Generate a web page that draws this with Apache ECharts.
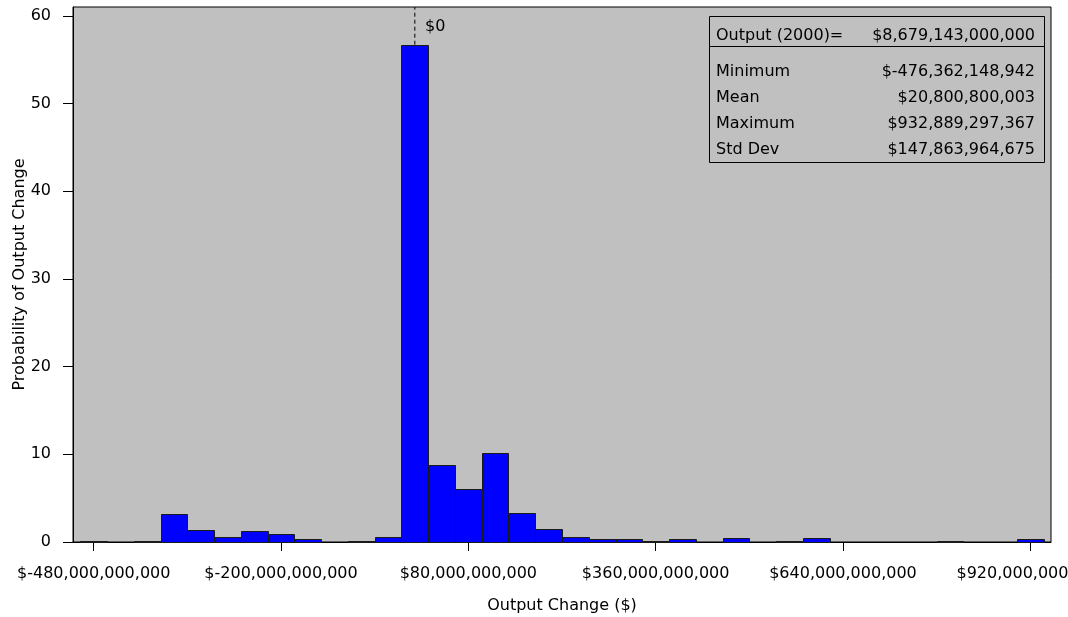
<!DOCTYPE html>
<html>
<head>
<meta charset="utf-8">
<script src="https://cdn.jsdelivr.net/npm/echarts@6/dist/echarts.min.js"></script>
<style>
  html, body { margin: 0; padding: 0; background: #ffffff; }
  #chart { width: 1068px; height: 617px; }
</style>
</head>
<body>
<div id="chart"></div>
<script>
// Histogram bins: centre of each bin, in billions of dollars (bins are 40 wide)
const binCenters = [
  -480, -440, -400, -360, -320, -280, -240, -200, -160, -120, -80, -40,
  0, 40, 80, 120, 160, 200, 240, 280, 320, 360, 400, 440,
  480, 520, 560, 600, 640, 680, 720, 760, 800, 840, 880, 920
];
// Probability (%) of the output change falling in each bin
const probability = [
  0.15, 0, 0.15, 3.2, 1.35, 0.55, 1.2, 0.95, 0.3, 0, 0.15, 0.6,
  56.7, 8.8, 6.05, 10.1, 3.3, 1.5, 0.6, 0.3, 0.3, 0.15, 0.3, 0,
  0.45, 0, 0.15, 0.45, 0, 0, 0, 0, 0.15, 0, 0, 0.3
];
const binWidth = 40;
const xTicks = [-480, -200, 80, 360, 640, 920];
const yTicks = [0, 10, 20, 30, 40, 50, 60];

// Summary statistics box
const statsHeader = ['Output (2000)=', '$8,679,143,000,000'];
const statsRows = [
  ['Minimum', '$-476,362,148,942'],
  ['Mean', '$20,800,800,003'],
  ['Maximum', '$932,889,297,367'],
  ['Std Dev', '$147,863,964,675']
];

const FONT = 'DejaVu Sans';
const Y_MAX = 61;

function dollars(billions) {
  const v = Math.round(Math.abs(billions) * 1e9);
  const s = String(v).replace(/\B(?=(\d{3})+(?!\d))/g, ',');
  return '$' + (billions < 0 ? '-' : '') + s;
}

const chart = echarts.init(document.getElementById('chart'), null, { renderer: 'canvas' });

const peakIndex = binCenters.indexOf(0);

const statsGraphics = [];
const boxL = 709, boxT = 16, boxR = 1044, boxB = 162, sepY = 46;
statsGraphics.push({
  type: 'rect', shape: { x: boxL + 0.5, y: boxT + 0.5, width: boxR - boxL, height: boxB - boxT },
  style: { fill: 'none', stroke: '#000', lineWidth: 1 }, z: 10
});
statsGraphics.push({
  type: 'line', shape: { x1: boxL, y1: sepY + 0.5, x2: boxR, y2: sepY + 0.5 },
  style: { stroke: '#000', lineWidth: 1 }, z: 10
});
const rowY = [36, 72, 98, 124, 150];
[statsHeader].concat(statsRows).forEach(function (row, i) {
  statsGraphics.push({
    type: 'text', x: 716, y: rowY[i], z: 11,
    style: { text: row[0], font: '16px "' + FONT + '"', fill: '#000', verticalAlign: 'middle', align: 'left' }
  });
  statsGraphics.push({
    type: 'text', x: 1035, y: rowY[i], z: 11,
    style: { text: row[1], font: '16px "' + FONT + '"', fill: '#000', verticalAlign: 'middle', align: 'right' }
  });
});
statsGraphics.push({
  type: 'text', x: 425, y: 27, z: 11,
  style: { text: '$0', font: '16px "' + FONT + '"', fill: '#000', verticalAlign: 'middle', align: 'left' }
});

const option = {
  animation: false,
  textStyle: { fontFamily: FONT, color: '#000' },
  grid: {
    left: 73, right: 17, top: 7, bottom: 75,
    outerBoundsMode: 'none', containLabel: false,
    show: true, backgroundColor: '#c0c0c0', borderColor: '#000', borderWidth: 1
  },
  xAxis: {
    type: 'value', min: -511, max: 951,
    name: 'Output Change ($)', nameLocation: 'middle', nameGap: 56,
    nameTextStyle: { fontFamily: FONT, fontSize: 16, color: '#000' },
    axisLine: { show: true, onZero: false, lineStyle: { color: '#000', width: 1 } },
    axisTick: { show: true, length: 9, customValues: xTicks, lineStyle: { color: '#000' } },
    axisLabel: {
      customValues: xTicks, margin: 24, fontFamily: FONT, fontSize: 16, color: '#000',
      hideOverlap: false,
      formatter: function (v) { return dollars(v); }
    },
    splitLine: { show: false }
  },
  yAxis: {
    type: 'value', min: 0, max: Y_MAX,
    name: 'Probability of Output Change', nameLocation: 'middle', nameGap: 45, nameRotate: 90,
    nameMoveOverlap: false,
    nameTextStyle: { fontFamily: FONT, fontSize: 16, color: '#000' },
    axisLine: { show: true, onZero: false, lineStyle: { color: '#000', width: 1 } },
    axisTick: { show: true, length: 10, customValues: yTicks, lineStyle: { color: '#000' } },
    axisLabel: { customValues: yTicks, margin: 22, fontFamily: FONT, fontSize: 16, color: '#000' },
    splitLine: { show: false }
  },
  graphic: statsGraphics,
  series: [
    {
      type: 'custom',
      data: binCenters.map(function (c, i) { return [c, probability[i]]; }),
      encode: { x: 0, y: 1 },
      renderItem: function (params, api) {
        const c = api.value(0), p = api.value(1);
        if (!p) return null;
        const topLeft = api.coord([c - binWidth / 2, p]);
        const bottomRight = api.coord([c + binWidth / 2, 0]);
        return {
          type: 'rect',
          shape: {
            x: Math.round(topLeft[0]) + 0.5, y: Math.round(topLeft[1]) + 0.5,
            width: Math.round(bottomRight[0]) - Math.round(topLeft[0]),
            height: Math.round(bottomRight[1]) - Math.round(topLeft[1])
          },
          style: { fill: '#0000ff', stroke: '#1a1a1a', lineWidth: 1 }
        };
      },
      z: 2
    },
    {
      // dashed reference line at $0, from the top of the peak bin to the top of the plot
      type: 'line',
      data: [[0, probability[peakIndex]], [0, Y_MAX]],
      symbol: 'none',
      silent: true,
      lineStyle: { color: '#000', width: 1, type: [4, 3] },
      z: 3
    }
  ]
};

chart.setOption(option);
</script>
</body>
</html>
